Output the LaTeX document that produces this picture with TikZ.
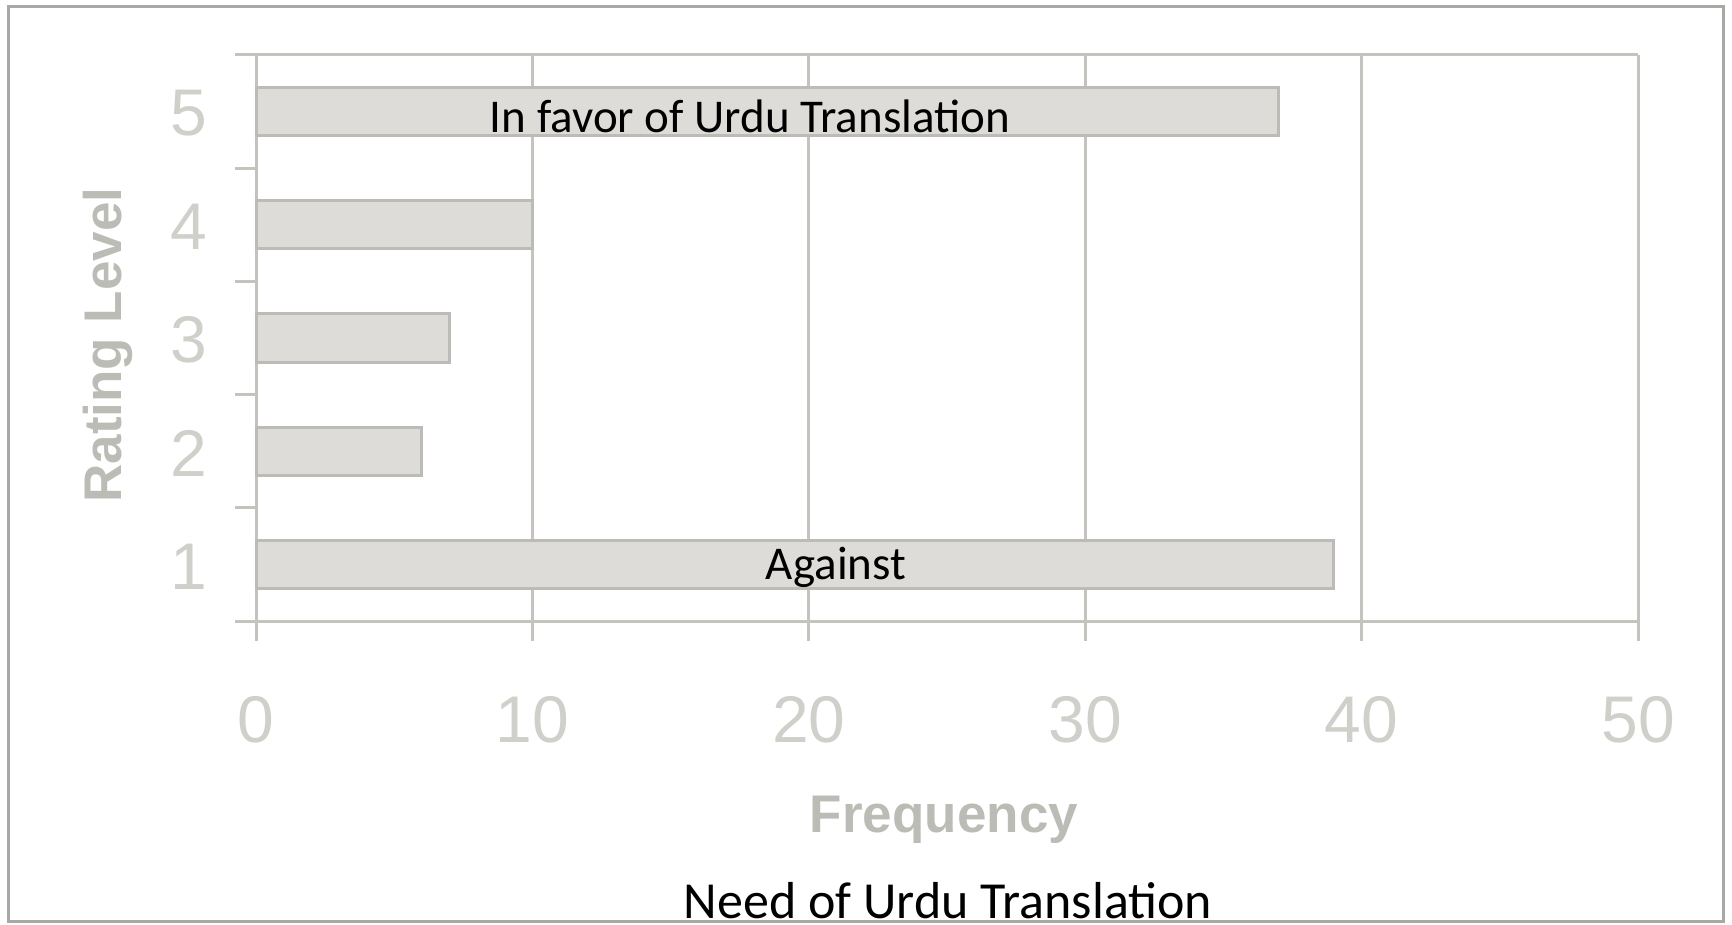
\documentclass[tikz,border=0pt]{standalone}
\usepackage{fontspec}
\usepackage{xcolor}
\setmainfont{Carlito}
\newfontfamily\chartfont{Liberation Sans}
\usetikzlibrary{calc}

\definecolor{barfill}{RGB}{221,220,216}
\definecolor{barline}{RGB}{188,187,182}
\definecolor{gridcol}{RGB}{196,195,190}
\definecolor{labcol}{RGB}{208,208,203}
\definecolor{titlecol}{RGB}{188,188,183}
\definecolor{framecol}{RGB}{168,168,164}

\begin{document}
\begin{tikzpicture}[x=1pt,y=-1pt,
	gridline/.style={draw=gridcol,line width=3},
	bar/.style={fill=barfill,draw=barline,line width=3},
	ticklab/.style={text=labcol,font=\chartfont\fontsize{66}{70}\selectfont,inner sep=0},
	axtitle/.style={text=titlecol,font=\chartfont\bfseries\fontsize{53}{60}\selectfont,inner sep=0},
	note/.style={text=black,font=\fontsize{47}{54}\selectfont,inner sep=0}]
	\useasboundingbox (0,0) rectangle (1732,925);
	%outer frame
	\draw[framecol,line width=3] (8,7) rectangle (1723,921);
	%% vertical grid lines and x labels drawn with a loop
	\foreach \i in {0,1,2,3,4,5}{
		\draw[gridline] ({256+276.4*\i},55) -- ({256+276.4*\i},641);
		\node[ticklab] (x\i) at ({256+276.4*\i},720){\pgfmathparse{int(10*\i)}\pgfmathresult};
		}
	%% top line, axis and ticks on the left
	\draw[gridline] (235,55) -- (1638,55);
	\draw[gridline] (235,621) -- (1638,621);
	\foreach \k in {1,2,3,4}{
		\draw[gridline] (235,{55+113.2*\k}) -- (256,{55+113.2*\k});
		}
	%% bars, level/value
	\foreach \lev/\val in {1/39,2/6,3/7,4/10,5/37}{
		\draw[bar] (256,{621-113.2*(\lev-0.5)-24}) rectangle ({256+27.64*\val},{621-113.2*(\lev-0.5)+24});
		\node[ticklab] (y\lev) at (189,{621-113.2*(\lev-0.5)+2}){\lev};
		}
	%% titles of the axes
	\node[axtitle,rotate=90] (ytitle) at (108,345){Rating Level};
	\node[axtitle] (xtitle) at (944,820){Frequency};
	%% notes on the bars and the caption
	\node[note] (favor) at (750,116){In favor of Urdu Translation};
	\node[note] (against) at (836,567){Against};
	\node[note,font=\fontsize{52}{58}\selectfont,anchor=base] (caption) at (948,918){Need of Urdu Translation};
\end{tikzpicture}
\end{document}
